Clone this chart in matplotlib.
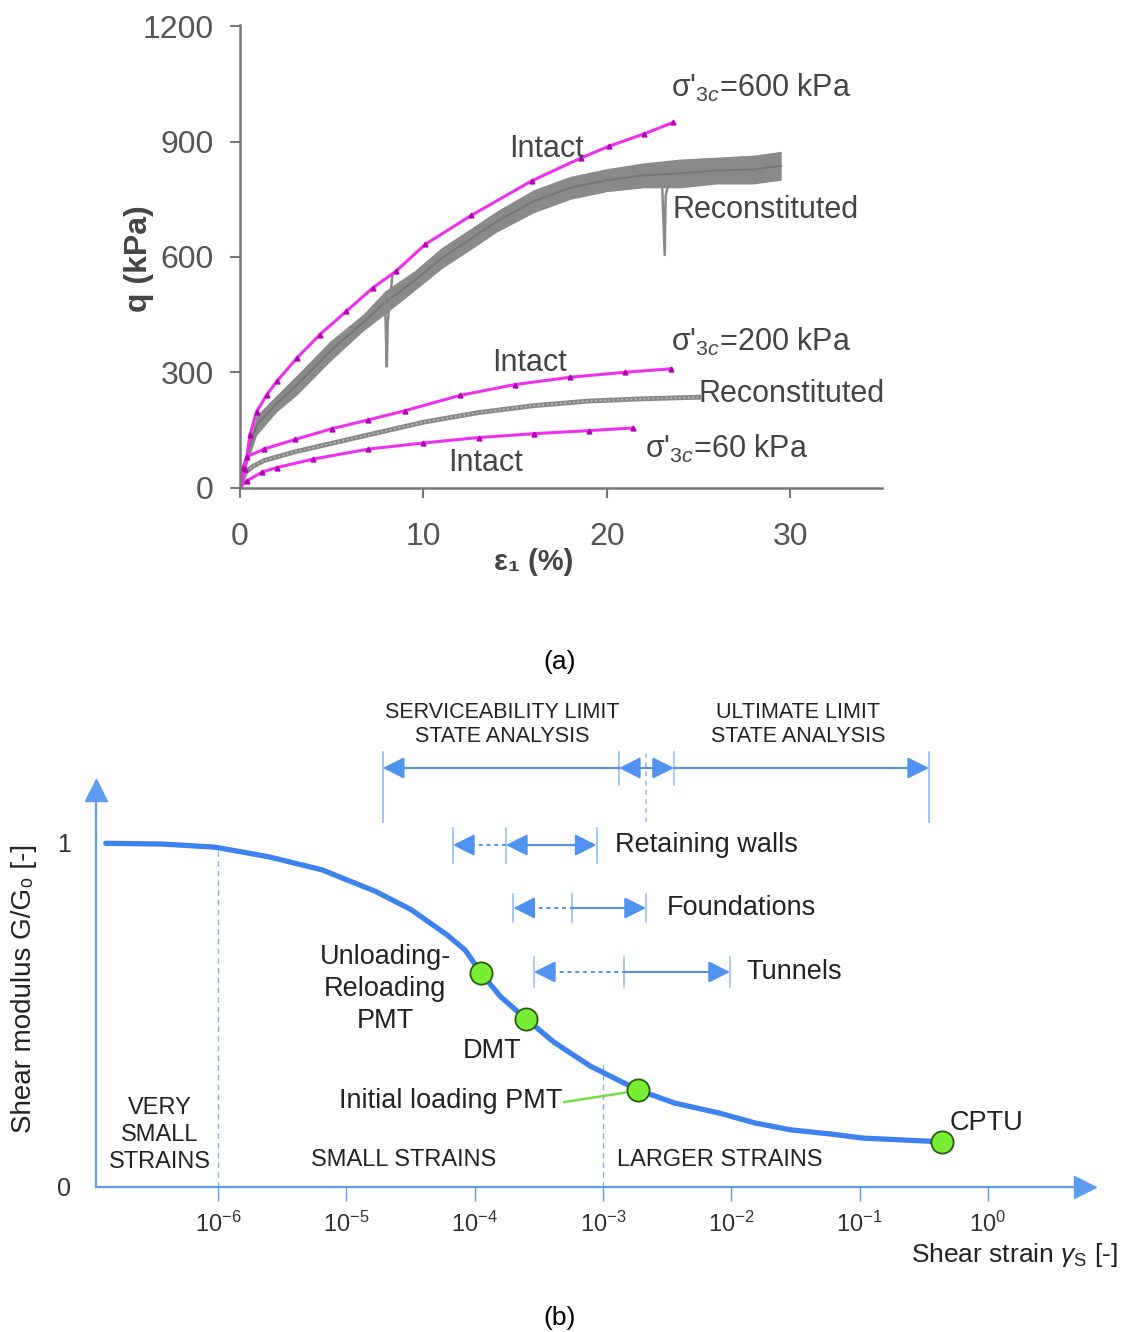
import numpy as np
import matplotlib
matplotlib.use('Agg')
import matplotlib.pyplot as plt

plt.rcParams['font.family'] = ['Liberation Sans', 'DejaVu Sans']
plt.rcParams['mathtext.fontset'] = 'custom'
plt.rcParams['mathtext.rm'] = 'Liberation Sans'
plt.rcParams['mathtext.it'] = 'Liberation Sans:italic'
plt.rcParams['mathtext.bf'] = 'Liberation Sans:bold'

# ---------------- (a) triaxial curves: q (kPa) vs axial strain (%)
i600_x = [0, 0.27, 0.54, 0.9, 1.45, 2.0, 3.1, 4.35, 5.8, 7.25, 8.5, 10.1, 12.6, 15.9, 18.6, 20.1, 22, 23.6]
i600_y = [0, 48, 137, 197, 241, 276, 337, 398, 459, 520, 563, 633, 708, 798, 858, 888, 920, 950]

r600_x = [0, 0.3, 0.9, 2, 3.1, 4.9, 6.7, 7.9, 9.5, 11, 12.6, 14, 16, 18, 20, 22, 24, 26, 28, 29.5]
r600_lo = [0, 50, 136, 197, 241, 328, 407, 451, 512, 570, 620, 665, 715, 750, 770, 780, 780, 790, 790, 800]
r600_hi = [0, 90, 188, 241, 293, 381, 451, 512, 564, 625, 675, 720, 775, 810, 830, 845, 855, 860, 865, 875]
# sudden drops in the reconstituted 600 kPa record
dip1_x = [7.9, 8.0, 8.05, 8.3]
dip1_y = [490, 315, 430, 550]
dip2_x = [23.0, 23.15, 23.2, 23.4]
dip2_y = [800, 605, 760, 800]

i200_x = [0, 0.15, 0.36, 1.3, 3, 5, 7, 9, 12, 15, 18, 21, 23.5]
i200_y = [0, 50, 80, 100, 125, 153, 176, 200, 240, 268, 287, 300, 309]

r200_x = [0, 0.3, 0.7, 1.3, 3, 5, 7, 10, 13, 16, 19, 22, 25]
r200_y = [0, 40, 55, 70, 93, 115, 137, 170, 195, 213, 225, 231, 235]

i60_x = [0, 0.36, 1.2, 2, 4, 7, 10, 13, 16, 19, 21.4]
i60_y = [0, 17, 40, 52, 74, 100, 116, 130, 140, 148, 155]

# ---------------- (b) stiffness degradation curve
g_strain = [1.33e-7, 3.6e-7, 9.4e-7, 2.47e-6, 6.44e-6, 1.69e-5, 3.2e-5, 6.07e-5, 8.4e-5,
            1.12e-4, 1.59e-4, 2.52e-4, 4.14e-4, 7.9e-4, 1.87e-3, 3.6e-3, 8.0e-3,
            0.0153, 0.029, 0.059, 0.106, 0.206, 0.44]
g_ratio = [0.999, 0.997, 0.988, 0.960, 0.922, 0.859, 0.806, 0.733, 0.689,
           0.622, 0.553, 0.488, 0.421, 0.352, 0.282, 0.244, 0.215,
           0.186, 0.166, 0.154, 0.142, 0.137, 0.131]
test_names = ['Unloading-\nReloading\nPMT', 'DMT', 'Initial loading PMT', 'CPTU']
test_strain = [1.12e-4, 2.52e-4, 1.87e-3, 0.44]
test_ratio = [0.622, 0.488, 0.282, 0.131]
tick_exp = [-6, -5, -4, -3, -2, -1, 0]

sls_ticks = [1.92e-5, 1.33e-3, 2.16e-3, 3.57e-3, 0.347]
wall_ticks = [6.76e-5, 1.75e-4, 8.9e-4]
found_ticks = [2.0e-4, 5.75e-4, 2.16e-3]
tunnel_ticks = [2.89e-4, 1.46e-3, 9.75e-3]

fig = plt.figure(figsize=(11.27, 13.32), dpi=100)

# ================= (a)
ax = fig.add_axes([0.213, 0.634, 0.5697, 0.3476])
mag = '#ee2fee'
mk = '#b400b4'
ax.fill_between(r600_x, r600_lo, r600_hi, color='#8a8a8a', lw=0)
ax.plot(r600_x, (np.array(r600_lo) + np.array(r600_hi)) / 2, color='#777777', lw=1.5)
ax.plot(dip1_x, dip1_y, color='#8a8a8a', lw=1.8)
ax.plot(dip2_x, dip2_y, color='#8a8a8a', lw=1.8)
ax.plot(r200_x, r200_y, color='#888888', lw=3.5)
ax.plot(r200_x, r200_y, color='#bdbdbd', lw=1.2, ls=':')
for xs, ys in [(i600_x, i600_y), (i200_x, i200_y), (i60_x, i60_y)]:
    ax.plot(xs, ys, color=mag, lw=2.2, marker='^', ms=3.5, mfc=mk, mec=mk)

ax.set_xlim(0, 35)
ax.set_ylim(0, 1205)
ax.set_xticks([0, 10, 20, 30])
ax.set_yticks([0, 300, 600, 900, 1200])
for s in ['top', 'right']:
    ax.spines[s].set_visible(False)
for s in ['left', 'bottom']:
    ax.spines[s].set_color('#777777')
    ax.spines[s].set_linewidth(1.8)
ax.tick_params(axis='both', colors='#777777', labelcolor='#555555', labelsize=23,
               length=7, width=1.5)
ax.tick_params(axis='y', pad=12)
ax.tick_params(axis='x', pad=18)

tc = '#444444'
fs = 22
ax.text(23.5, 1041, r"σ'$_{3c}$=600 kPa", fontsize=fs, color=tc, va='center')
ax.text(16.7, 881, 'Intact', fontsize=fs, color=tc, ha='center', va='center')
ax.text(23.6, 723, 'Reconstituted', fontsize=fs, color=tc, va='center')
ax.text(23.5, 378, r"σ'$_{3c}$=200 kPa", fontsize=fs, color=tc, va='center')
ax.text(15.8, 324, 'Intact', fontsize=fs, color=tc, ha='center', va='center')
ax.text(25.0, 244, 'Reconstituted', fontsize=fs, color=tc, va='center')
ax.text(22.1, 101, r"σ'$_{3c}$=60 kPa", fontsize=fs, color=tc, va='center')
ax.text(13.4, 65, 'Intact', fontsize=fs, color=tc, ha='center', va='center')
ax.text(-5.5, 595, 'q (kPa)', fontsize=23, fontweight='bold', color=tc,
        rotation=90, ha='center', va='center')
ax.text(16.0, -193, 'ε₁ (%)', fontsize=21, fontweight='bold', color=tc,
        ha='center', va='center', clip_on=False)
fig.text(560 / 1127, 1 - 662 / 1332, '(a)', fontsize=19, ha='center', va='center')

# ================= (b)
bx = fig.add_axes([0.0852, 0.1089, 0.8775, 0.298])
blue = '#3d82ee'
ablue = '#5e9cf2'
bx.set_xscale('log')
bx.set_xlim(10 ** -6.952, 10 ** 0.756)
bx.set_ylim(0, 1.154)
for s in ['top', 'right']:
    bx.spines[s].set_visible(False)
for s in ['left', 'bottom']:
    bx.spines[s].set_color(ablue)
    bx.spines[s].set_linewidth(1.6)
bx.plot([1], [0], marker='>', ms=16, color=ablue, transform=bx.transAxes, clip_on=False)
bx.plot([0], [1], marker='^', ms=16, color=ablue, transform=bx.transAxes, clip_on=False)

bx.set_xticks([10.0 ** e for e in tick_exp])
bx.set_xticklabels(['$10^{%d}$' % e for e in tick_exp])
bx.xaxis.set_minor_locator(matplotlib.ticker.NullLocator())
bx.tick_params(axis='x', colors=ablue, labelcolor='#333333', labelsize=17,
               length=10, width=1, pad=8)
bx.set_yticks([0, 1])
bx.tick_params(axis='y', length=0, labelcolor='#333333', labelsize=18, pad=18)

bx.plot([1e-6, 1e-6], [0, 0.985], color='#7fb0f2', lw=1, ls=(0, (4, 3)))
bx.plot([1e-3, 1e-3], [0, 0.36], color='#7fb0f2', lw=1, ls=(0, (4, 3)))

bx.plot(g_strain, g_ratio, color=blue, lw=3.8, solid_capstyle='round', zorder=3)
bx.plot([5.0e-4, 1.6e-3], [0.247, 0.276], color='#77dd44', lw=1.8, zorder=3)
bx.plot(test_strain, test_ratio, 'o', ms=16, mfc='#77ee33', mec='#2b5a12', mew=1.3, zorder=4)

lc = '#222222'
bfs = 19.5
bx.text(2.0e-5, 0.576, test_names[0], fontsize=bfs, color=lc, ha='center', va='center',
        linespacing=1.3)
bx.text(1.36e-4, 0.395, test_names[1], fontsize=bfs, color=lc, ha='center', va='center')
bx.text(4.86e-4, 0.25, test_names[2], fontsize=bfs, color=lc, ha='right', va='center')
bx.text(0.506, 0.186, test_names[3], fontsize=bfs, color=lc, ha='left', va='center')
bx.text(3.5e-7, 0.151, 'VERY\nSMALL\nSTRAINS', fontsize=17, color=lc, ha='center',
        va='center', linespacing=1.3)
bx.text(2.8e-5, 0.078, 'SMALL STRAINS', fontsize=17, color=lc, ha='center', va='center')
bx.text(8.1e-3, 0.078, 'LARGER STRAINS', fontsize=17, color=lc, ha='center', va='center')
bx.text(0.929, -0.171, r'Shear strain $\gamma_{\mathrm{S}}$ [-]', fontsize=19, color=lc,
        ha='center', va='center', transform=bx.transAxes)
bx.text(-0.073, 0.5, 'Shear modulus G/G₀ [-]', fontsize=20, color=lc, rotation=90,
        ha='center', va='center', transform=bx.transAxes)

bx.text(1.63e-4, 1.344, 'SERVICEABILITY LIMIT\nSTATE ANALYSIS', fontsize=15.5, color=lc,
        ha='center', va='center', linespacing=1.2, clip_on=False)
bx.text(0.033, 1.344, 'ULTIMATE LIMIT\nSTATE ANALYSIS', fontsize=15.5, color=lc,
        ha='center', va='center', linespacing=1.2, clip_on=False)
bx.text(1.24e-3, 0.994, 'Retaining walls', fontsize=bfs, color=lc, va='center')
bx.text(3.15e-3, 0.811, 'Foundations', fontsize=bfs, color=lc, va='center')
bx.text(0.013, 0.625, 'Tunnels', fontsize=bfs, color=lc, va='center')

rc = '#4f92f0'


def vline(x, y0, y1, ls='-'):
    bx.plot([x, x], [y0, y1], color='#8ab8f4', lw=1.1, ls=ls, clip_on=False)


def arrow(x0, x1, y, style):
    bx.annotate('', xy=(x1, y), xytext=(x0, y), annotation_clip=False,
                arrowprops=dict(arrowstyle=style, color=rc, lw=1.5,
                                shrinkA=0, shrinkB=0, mutation_scale=22))


head = '-|>,head_length=0.6,head_width=0.3'
dhead = '<|-|>,head_length=0.6,head_width=0.3'

# limit state ranges
y = 1.218
vline(sls_ticks[0], 1.061, 1.265)
vline(sls_ticks[1], 1.17, 1.265)
vline(sls_ticks[2], 1.061, 1.265, ls=(0, (3, 3)))
vline(sls_ticks[3], 1.17, 1.265)
vline(sls_ticks[4], 1.061, 1.265)
arrow(sls_ticks[1], sls_ticks[0], y, head)
arrow(sls_ticks[2], sls_ticks[1], y, head)
arrow(sls_ticks[2], sls_ticks[3], y, head)
arrow(sls_ticks[3], sls_ticks[4], y, head)

# application ranges: dotted part with a solid head, then solid part
for ticks, yc, h in [(wall_ticks, 0.994, 0.051), (found_ticks, 0.811, 0.041),
                     (tunnel_ticks, 0.625, 0.044)]:
    for t in ticks:
        vline(t, yc - h, yc + h)
    tail = ticks[0] * 10 ** (18 / 128.3)
    bx.plot([tail, ticks[1]], [yc, yc], color=rc, lw=1.4, ls=(0, (2, 2)))
    arrow(tail, ticks[0], yc, head)
    if ticks is wall_ticks:
        arrow(ticks[1], ticks[2], yc, dhead)
    else:
        arrow(ticks[1], ticks[2], yc, head)

fig.text(560 / 1127, 1 - 1318 / 1332, '(b)', fontsize=19, ha='center', va='center')

fig.savefig('out.png', dpi=100)
